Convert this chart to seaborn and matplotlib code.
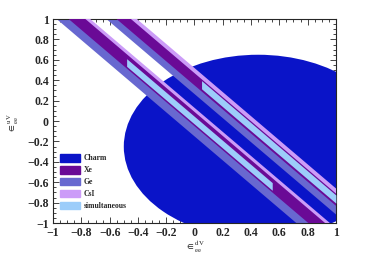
import numpy as np
import matplotlib
matplotlib.use('Agg')
import matplotlib.pyplot as plt
from matplotlib.patches import Ellipse, Patch
import seaborn as sns

# Charm ellipse (centre, full widths)
charm_center = (0.45, -0.25)
charm_size = (1.9, 1.8)

# bands: y = c + slope * x, given as [c_low, c_high]
slope = -1.18
names = ['Ge', 'CsI', 'Xe', 'simultaneous']
band1_lo = [-0.15, -0.02, -0.05, -0.03]
band1_hi = [0.05, 0.13, 0.09, 0.045]
band2_lo = [0.265, 0.36, 0.35, 0.375]
band2_hi = [0.40, 0.52, 0.47, 0.455]
sim1_x = [-0.48, 0.55]
sim2_x = [0.05, 1.0]

legend_labels = ['Charm', 'Xe', 'Ge', 'CsI', 'simultaneous']
colors = {'Charm': '#0a14c8', 'Xe': '#6a0a96', 'Ge': '#6868d0',
          'CsI': '#cc9cf8', 'simultaneous': '#9ccdfa'}

sns.set_style('ticks')
plt.rcParams['font.family'] = ['Liberation Serif', 'DejaVu Serif']
plt.rcParams['mathtext.fontset'] = 'stix'

fig = plt.figure(figsize=(3.74, 2.54), dpi=100)
ax = fig.add_axes([0.142, 0.122, 0.756, 0.803])

ax.add_patch(Ellipse(charm_center, charm_size[0], charm_size[1],
                     color=colors['Charm'], lw=0, zorder=1))

xs = np.linspace(-1.2, 1.2, 200)
for i, name in enumerate(names):
    for lo, hi, xr in [(band1_lo, band1_hi, sim1_x), (band2_lo, band2_hi, sim2_x)]:
        if name == 'simultaneous':
            x = np.linspace(xr[0], xr[1], 100)
        else:
            x = xs
        ax.fill_between(x, lo[i] + slope * x, hi[i] + slope * x,
                        color=colors[name], lw=0, zorder=2 + i)

ax.set_xlim(-1, 1)
ax.set_ylim(-1, 1)
ticks = np.round(np.arange(-1, 1.01, 0.2), 1)
ax.set_xticks(ticks)
ax.set_yticks(ticks)
lab = ['1' if t == 1 else '\u22121' if t == -1 else '0' if t == 0 else
       ('%.1f' % t).replace('-', '\u2212') for t in ticks]
ax.set_xticklabels(lab)
ax.set_yticklabels(lab)
ax.set_xticks(np.arange(-1, 1.001, 0.05), minor=True)
ax.set_yticks(np.arange(-1, 1.001, 0.05), minor=True)
ax.tick_params(which='both', direction='in', top=True, right=True, width=0.6)
ax.tick_params(which='major', length=4, labelsize=8.5, pad=3)
ax.tick_params(which='minor', length=2)
for t in ax.get_xticklabels() + ax.get_yticklabels():
    t.set_fontweight('bold')
for s in ax.spines.values():
    s.set_linewidth(0.8)

ax.set_xlabel(r'$\in_{\rm ee}^{\rm dV}$', fontsize=7)
ax.set_ylabel(r'$\in_{\rm ee}^{\rm uV}$', fontsize=7)
ax.xaxis.set_label_coords(0.5, -0.075)
ax.yaxis.set_label_coords(-0.115, 0.49)

handles = [Patch(color=colors[n], label=n) for n in legend_labels]
leg = ax.legend(handles=handles, loc='lower left', bbox_to_anchor=(0.0, 0.03),
                frameon=False, prop={'family': 'Liberation Serif', 'weight': 'bold', 'size': 5.5},
                handlelength=2.6, handleheight=1.2, labelspacing=0.45, handletextpad=0.5)
leg.set_zorder(10)

fig.savefig('out.png', dpi=100)
